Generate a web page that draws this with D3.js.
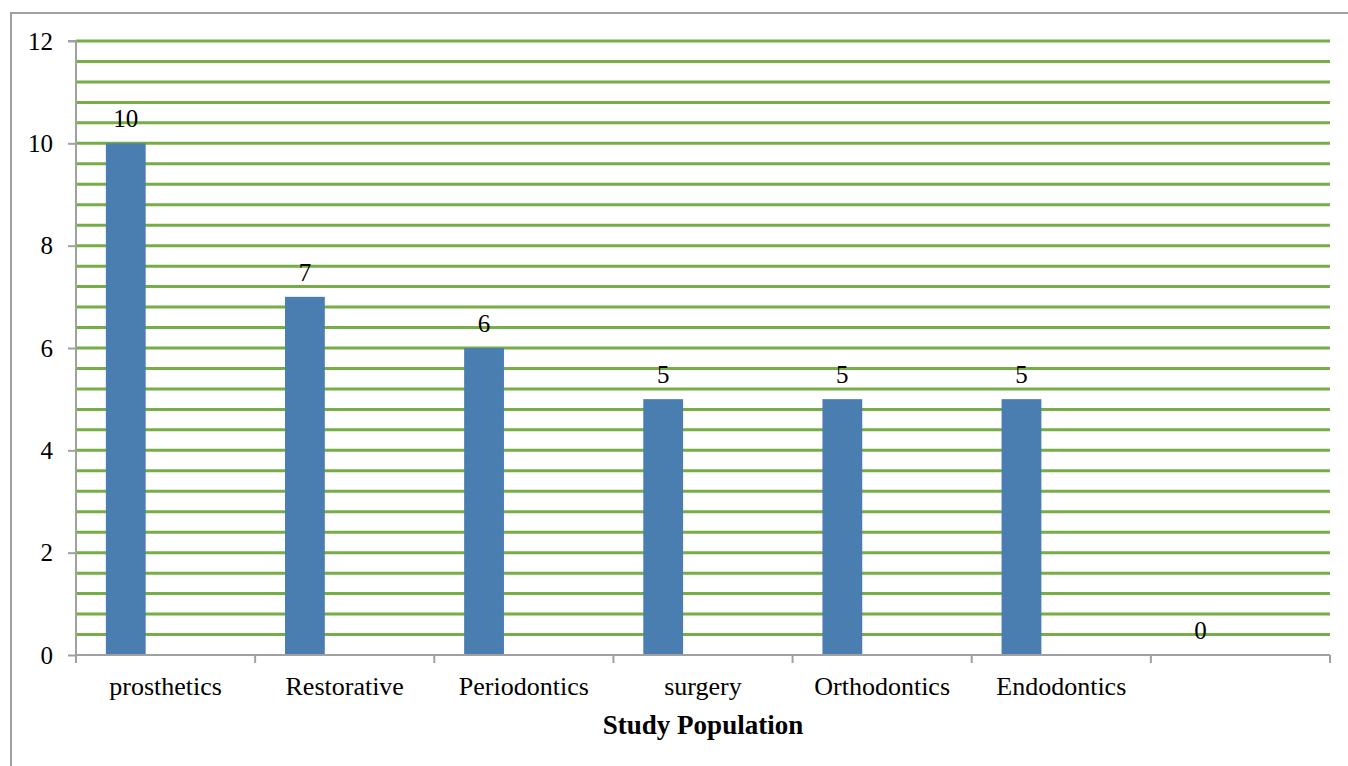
<!DOCTYPE html>
<html><head><meta charset="utf-8">
<script src="https://cdn.jsdelivr.net/npm/d3@7"></script>
<style>body{margin:0;background:#fff}svg{display:block}</style>
</head><body>
<svg id="c" width="1348" height="766"></svg>
<script>
const categories = ["prosthetics","Restorative","Periodontics","surgery","Orthodontics","Endodontics",""];
const values = [10,7,6,5,5,5,0];
const yTicks = [0,2,4,6,8,10,12];
const gridStep = 0.4;
const xTitle = "Study Population";

const svg = d3.select("#c");
const font = "'Liberation Serif','Times New Roman',serif";
const m = {left:76, right:1330, top:41, bottom:655};

// frame
svg.append("path").attr("d","M11,766 V13 H1348").attr("fill","none").attr("stroke","#a0a0a0").attr("stroke-width",2);

const x = d3.scaleBand().domain(d3.range(categories.length)).range([m.left,m.right]).paddingInner(0).paddingOuter(0);
const slot = x.bandwidth()/4.5; // 3 series slots + 150% gap
const y = d3.scaleLinear().domain([0,12]).range([m.bottom,m.top]);

// gridlines
const grid = d3.range(0, 12+1e-9, gridStep).filter(v=>v>0);
svg.append("g").selectAll("line").data(grid).join("line")
  .attr("x1",m.left).attr("x2",m.right)
  .attr("y1",d=>y(d)).attr("y2",d=>y(d))
  .attr("stroke","#74ae45").attr("stroke-width",3);

// bars
svg.append("g").selectAll("rect").data(values).join("rect")
  .attr("x",(d,i)=>x(i)+slot*0.75)
  .attr("width",slot)
  .attr("y",d=>y(d)).attr("height",d=>y(0)-y(d))
  .attr("fill","#4a7db0");

// value labels
svg.append("g").selectAll("text").data(values).join("text")
  .attr("x",(d,i)=>x(i)+slot*1.25)
  .attr("y",d=>y(d)-16)
  .attr("text-anchor","middle")
  .attr("font-family",font).attr("font-size",25).attr("fill","#000")
  .text(d=>d);

// y axis
const ya = svg.append("g").attr("transform",`translate(${m.left},0)`)
  .call(d3.axisLeft(y).tickValues(yTicks).tickSize(8).tickPadding(15).tickFormat(d3.format("d")));
ya.select(".domain").attr("stroke","#a0a0a0").attr("stroke-width",2).attr("d",`M-8,${m.top}H0V${m.bottom}`);
ya.selectAll(".tick line").attr("stroke","#a0a0a0").attr("stroke-width",2);
ya.selectAll("text").attr("font-family",font).attr("font-size",25).attr("fill","#000");

// x axis
const xa = svg.append("g").attr("transform",`translate(0,${m.bottom})`);
xa.append("line").attr("x1",m.left).attr("x2",m.right).attr("stroke","#a0a0a0").attr("stroke-width",2);
const bounds = d3.range(categories.length+1).map(i=> i<categories.length ? x(i) : m.right);
xa.selectAll("line.t").data(bounds).join("line").attr("class","t")
  .attr("x1",d=>d).attr("x2",d=>d).attr("y1",0).attr("y2",8)
  .attr("stroke","#a0a0a0").attr("stroke-width",2);
xa.selectAll("text").data(categories).join("text")
  .attr("x",(d,i)=>x(i)+x.bandwidth()/2)
  .attr("y",40)
  .attr("text-anchor","middle")
  .attr("font-family",font).attr("font-size",26).attr("fill","#000")
  .text(d=>d);

svg.append("text").attr("x",(m.left+m.right)/2).attr("y",734)
  .attr("text-anchor","middle").attr("font-family",font).attr("font-size",27)
  .attr("font-weight","bold").attr("fill","#000").text(xTitle);
</script>
</body></html>
